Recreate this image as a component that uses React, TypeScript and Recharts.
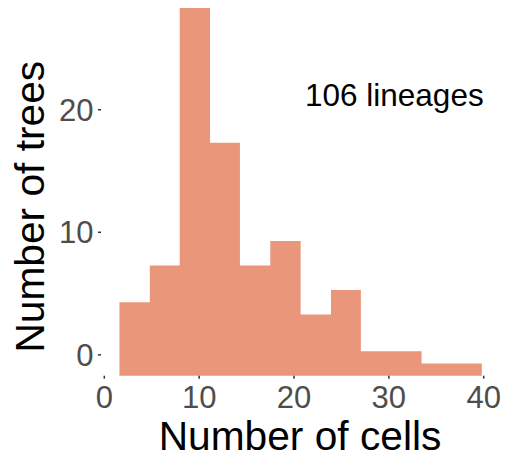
import React from 'react';
import { ComposedChart, Area, XAxis, YAxis } from 'recharts';

// histogram bins (number of cells) and counts per bin
const binEdges = [1.6, 4.8, 7.95, 11.15, 14.3, 17.5, 20.7, 23.9, 27.05, 30.25, 33.45, 36.6, 39.8];
const binCounts = [6, 9, 30, 19, 9, 11, 5, 7, 2, 2, 1, 1];

const xTicks = [0, 10, 20, 30, 40];
const yTickPositions = [1.7, 11.7, 21.7];
const yTickLabels = ['0', '10', '20'];

const annotation = '106 lineages';

const FONT = '"Liberation Sans", Arial, Helvetica, sans-serif';
const BAR = '#E9967A';

// step area needs a point on every edge; last edge repeats the last count
const chartData = binEdges.map((x, i) => ({
  x,
  count: binCounts[Math.min(i, binCounts.length - 1)],
}));

export default function App() {
  return (
    <div style={{ position: 'absolute', left: 0, top: 0, width: 513, height: 461, background: '#fff' }}>
      <ComposedChart
        width={513}
        height={461}
        data={chartData}
        margin={{ top: 8, right: 29.3, bottom: 0, left: 0 }}
      >
        <XAxis
          dataKey="x"
          type="number"
          domain={[0, 40]}
          ticks={xTicks}
          height={85.3}
          padding={{ left: 3.3, right: 0 }}
          axisLine={false}
          tickSize={3}
          tickMargin={7}
          tickLine={{ stroke: '#333333', strokeWidth: 1.5 }}
          tick={{ fill: '#4D4D4D', fontSize: 31, fontFamily: FONT }}
          interval={0}
        />
        <YAxis
          type="number"
          domain={[0, 30]}
          ticks={yTickPositions}
          tickFormatter={(v: number) => yTickLabels[yTickPositions.indexOf(v)] ?? ''}
          width={101}
          axisLine={false}
          tickSize={3}
          tickMargin={4.5}
          tickLine={{ stroke: '#333333', strokeWidth: 1.5 }}
          tick={{ fill: '#4D4D4D', fontSize: 31, fontFamily: FONT }}
          interval={0}
        />
        <Area
          type="stepAfter"
          dataKey="count"
          stroke="none"
          fill={BAR}
          fillOpacity={1}
          isAnimationActive={false}
          dot={false}
          activeDot={false}
        />
      </ComposedChart>
      <svg
        width={513}
        height={461}
        style={{ position: 'absolute', left: 0, top: 0, pointerEvents: 'none' }}
      >
        <text x={300} y={450} textAnchor="middle" fontSize={40.7} fontFamily={FONT} fill="#000">
          Number of cells
        </text>
        <text
          x={44.3}
          y={206.7}
          textAnchor="middle"
          fontSize={40.7}
          fontFamily={FONT}
          fill="#000"
          transform="rotate(-90, 44.3, 206.7)"
        >
          Number of trees
        </text>
        <text x={305} y={106} fontSize={31.5} fontFamily={FONT} fill="#000">
          {annotation}
        </text>
      </svg>
    </div>
  );
}
